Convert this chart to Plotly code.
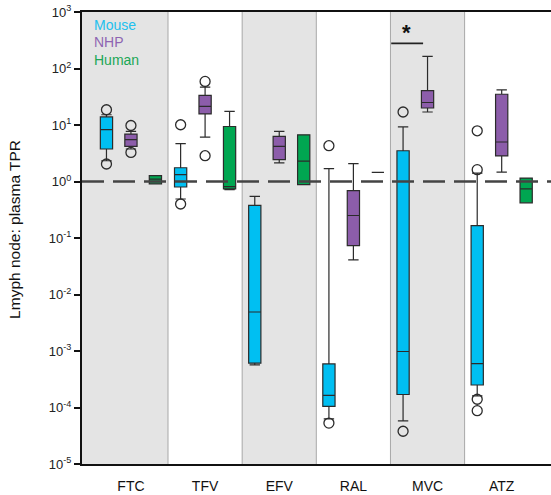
import plotly.graph_objects as go

drugs = ["FTC", "TFV", "EFV", "RAL", "MVC", "ATZ"]
species = ["Mouse", "NHP", "Human"]

mouse_lo = [2.33, 0.49, 5.7e-4, 6.3e-5, 5.8e-5, 1.6e-4]
mouse_q1 = [3.76, 0.80, 6.1e-4, 1.05e-4, 1.7e-4, 2.5e-4]
mouse_med = [8.26, 1.32, 4.9e-3, 1.64e-4, 9.8e-4, 6.0e-4]
mouse_q3 = [13.9, 1.75, 0.378, 5.9e-4, 3.5, 0.165]
mouse_hi = [15.2, 4.67, 0.545, 1.69, 9.3, 1.41]
mouse_out = [[18.6, 2.04], [10.1, 0.40], [], [4.3, 5.3e-5], [17.0, 3.8e-5], [7.9, 1.62, 1.4e-4, 8.8e-5]]

nhp_lo = [3.76, 6.1, 2.13, 0.041, 17.0, 1.47]
nhp_q1 = [4.18, 15.7, 2.43, 0.073, 20.0, 2.83]
nhp_med = [5.5, 21.3, 4.18, 0.25, 25.0, 5.0]
nhp_q3 = [6.9, 33.4, 6.3, 0.687, 40.5, 35.0]
nhp_hi = [7.7, 47.0, 7.7, 2.07, 164.0, 42.0]
nhp_out = [[9.8, 3.27], [59.0, 2.86], [], [], [], []]

human_lo = [0.91, 0.72, 0.88, 1.45, None, 0.42]
human_q1 = [0.91, 0.74, 0.88, 1.45, None, 0.42]
human_med = [1.1, 0.81, 2.3, 1.45, None, 0.74]
human_q3 = [1.27, 9.4, 6.7, 1.45, None, 1.15]
human_hi = [1.27, 17.4, 6.7, 1.45, None, 1.15]
human_out = [[], [], [], [], [], []]

ytick_vals = [1e-5, 1e-4, 1e-3, 1e-2, 1e-1, 1e0, 1e1, 1e2, 1e3]
ytick_text = ["10<sup>-5</sup>", "10<sup>-4</sup>", "10<sup>-3</sup>", "10<sup>-2</sup>",
              "10<sup>-1</sup>", "10<sup>0</sup>", "10<sup>1</sup>", "10<sup>2</sup>", "10<sup>3</sup>"]

fill_colors = {"Mouse": "#00BFF2", "NHP": "#8C5DAA", "Human": "#00A651"}
text_colors = {"Mouse": "#22C0EE", "NHP": "#8E64B2", "Human": "#1BA756"}
offsets = {"Mouse": -0.33, "NHP": 0.0, "Human": 0.33}

data = {
    "Mouse": (mouse_lo, mouse_q1, mouse_med, mouse_q3, mouse_hi, mouse_out),
    "NHP": (nhp_lo, nhp_q1, nhp_med, nhp_q3, nhp_hi, nhp_out),
    "Human": (human_lo, human_q1, human_med, human_q3, human_hi, human_out),
}

FONT = "Liberation Sans, Arial, sans-serif"
fig = go.Figure()

for sp in species:
    lo, q1, med, q3, hi, out = data[sp]
    xs, L, Q1, M, Q3, H = [], [], [], [], [], []
    ox, oy = [], []
    for i in range(len(drugs)):
        if med[i] is None:
            continue
        xs.append(i + offsets[sp])
        L.append(lo[i]); Q1.append(q1[i]); M.append(med[i]); Q3.append(q3[i]); H.append(hi[i])
        for v in out[i]:
            ox.append(i + offsets[sp]); oy.append(v)
    fig.add_trace(go.Box(
        x=xs, q1=Q1, median=M, q3=Q3, lowerfence=L, upperfence=H,
        fillcolor=fill_colors[sp], line=dict(color="#2b2b2b", width=1.2),
        width=0.165, whiskerwidth=0.85, boxpoints=False, name=sp, showlegend=False,
    ))
    if ox:
        fig.add_trace(go.Scatter(
            x=ox, y=oy, mode="markers", showlegend=False,
            marker=dict(symbol="circle-open", size=10, color="#2b2b2b", line=dict(width=1.3)),
        ))

shapes = []
for i in range(len(drugs)):
    x0 = i - 0.5 if i > 0 else -0.7
    x1 = i + 0.5 if i < len(drugs) - 1 else 5.8
    if i % 2 == 0:
        shapes.append(dict(type="rect", xref="x", yref="paper", x0=x0, x1=x1, y0=0, y1=1,
                           fillcolor="#E4E4E4", line=dict(width=0), layer="below"))
for i in range(1, len(drugs)):
    shapes.append(dict(type="line", xref="x", yref="paper", x0=i - 0.5, x1=i - 0.5, y0=0, y1=1,
                       line=dict(color="#A8A8A8", width=1), layer="below"))
shapes.append(dict(type="line", xref="paper", yref="y", x0=0, x1=1, y0=1, y1=1,
                   line=dict(color="#444", width=2.3, dash="22px,9px"), layer="above"))
shapes.append(dict(type="line", xref="x", yref="y", x0=3.51, x1=3.94, y0=278, y1=278,
                   line=dict(color="#222", width=1.6)))

annotations = []
for k, sp in enumerate(species):
    annotations.append(dict(text=sp, xref="paper", yref="paper", x=0.022, y=[0.971, 0.934, 0.894][k],
                            xanchor="left", yanchor="middle", showarrow=False,
                            font=dict(family=FONT, size=14, color=text_colors[sp])))
annotations.append(dict(text="<b>*</b>", xref="x", yref="y", x=3.72, y=2.63, yanchor="middle",
                        showarrow=False, font=dict(family=FONT, size=22, color="#111")))
annotations.append(dict(text="Lmyph node: plasma TPR", xref="paper", yref="paper",
                        x=-0.143, y=0.52, textangle=-90, showarrow=False,
                        xanchor="center", yanchor="middle",
                        font=dict(family=FONT, size=15.5, color="#111")))

fig.update_layout(
    width=551, height=495,
    margin=dict(l=82, r=0, t=12, b=31, autoexpand=False),
    paper_bgcolor="white", plot_bgcolor="white",
    shapes=shapes, annotations=annotations, showlegend=False,
    font=dict(family=FONT, color="#222"),
    xaxis=dict(range=[-0.66, 5.665], tickvals=list(range(len(drugs))), ticktext=drugs,
               showline=True, linecolor="#111", linewidth=1.8, mirror=True,
               ticks="outside", ticklen=8, tickcolor="rgba(0,0,0,0)", automargin=False,
               showgrid=False, zeroline=False, tickfont=dict(size=14, family=FONT, color="#111")),
    yaxis=dict(type="log", range=[-5, 3], tickvals=ytick_vals, ticktext=ytick_text,
               showline=True, linecolor="#111", linewidth=2, ticks="outside", ticklen=6,
               tickwidth=1.6, tickcolor="#111", showgrid=False, zeroline=False, automargin=False,
               tickfont=dict(size=13, family=FONT, color="#222")),
)

fig.write_html("out.html", config={"displayModeBar": False},
               post_script="document.body.style.margin='0';document.body.style.overflow='hidden';")
